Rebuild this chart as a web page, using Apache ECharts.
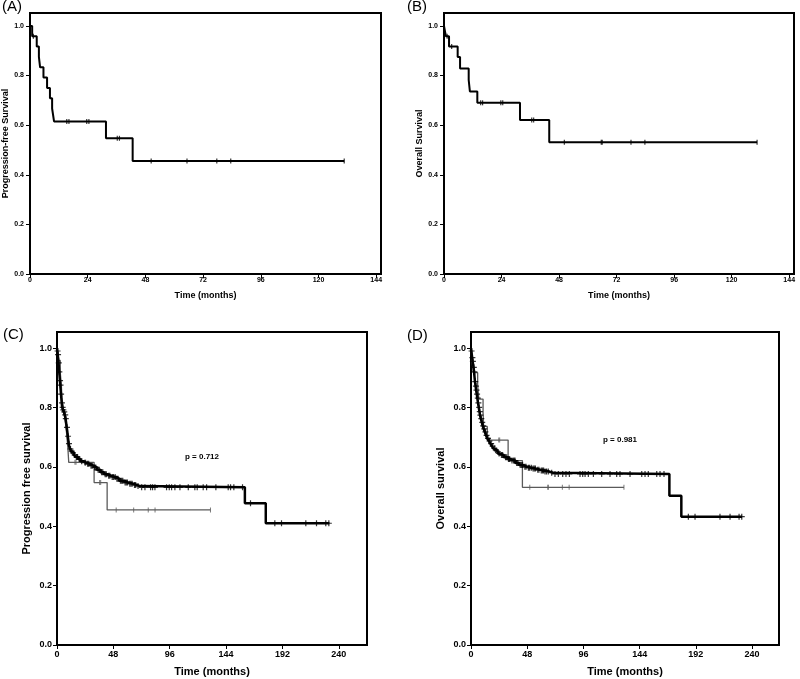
<!DOCTYPE html>
<html>
<head>
<meta charset="utf-8">
<script src="https://cdn.jsdelivr.net/npm/echarts@6/dist/echarts.min.js"></script>
<style>
html,body{margin:0;padding:0;background:#fff;}
#chart{width:800px;height:679px;}
</style>
</head>
<body>
<div id="chart"></div>
<script>
// ---------- DATA ----------
// Panel A: progression-free survival, small cohort
const pfsSmallTimes = [0, 0.9, 2.8, 3.7, 4.2, 5.6, 7.1, 8.3, 9.2, 10.0, 31.6, 42.7, 130.7];
const pfsSmallSurv  = [1.0, 0.958, 0.917, 0.875, 0.833, 0.792, 0.750, 0.708, 0.667, 0.615, 0.547, 0.455, 0.455];
const pfsSmallCensor = [1.4, 15.3, 16.2, 23.6, 24.5, 36.3, 37.2, 50.4, 65.3, 77.7, 83.5, 130.7];

// Panel B: overall survival, small cohort
const osSmallTimes = [0, 0.8, 2.1, 5.7, 6.7, 10.3, 10.8, 13.9, 31.7, 43.9, 130.6];
const osSmallSurv  = [1.0, 0.958, 0.917, 0.875, 0.828, 0.782, 0.736, 0.690, 0.621, 0.531, 0.531];
const osSmallCensor = [1.3, 3.2, 15.3, 16.1, 23.7, 24.5, 36.6, 37.4, 50.2, 65.6, 66.0, 78.0, 83.8, 130.6];

// Panel C: progression free survival, large cohort
const pfsLargeTimes = [0, 0.3, 0.6, 1.0, 1.3, 1.6, 1.9, 2.2, 2.5, 2.8, 3.1, 3.4, 3.7, 4.0, 4.4, 5.0, 5.8, 6.6, 7.3, 7.8, 8.3, 8.8, 9.2, 9.6, 10.0, 10.5, 11.0, 12.0, 13.0, 14.5, 16.0, 18.0, 20.0, 22.5, 25.0, 28.0, 31.0, 34.0, 37.0, 40.0, 43.0, 46.0, 50.0, 53.0, 57.0, 61.0, 65.0, 68.0, 70.5, 160.0, 177.8, 232.0];
const pfsLargeSurv  = [1.0, 0.990, 0.978, 0.965, 0.950, 0.935, 0.920, 0.905, 0.890, 0.875, 0.860, 0.845, 0.830, 0.815, 0.800, 0.792, 0.785, 0.775, 0.762, 0.748, 0.733, 0.718, 0.703, 0.690, 0.678, 0.667, 0.660, 0.653, 0.647, 0.640, 0.633, 0.626, 0.619, 0.614, 0.610, 0.604, 0.598, 0.590, 0.582, 0.575, 0.570, 0.566, 0.560, 0.553, 0.547, 0.543, 0.539, 0.535, 0.531, 0.477, 0.410, 0.410];
const pfsLargeCensor = [0.5, 0.9, 1.5, 2.0, 2.6, 3.0, 3.5, 4.2, 4.8, 5.4, 6.2, 7.0, 7.5, 8.5, 9.4, 10.2, 11.5, 12.5, 13.5, 15, 16.5, 17.5, 19, 21, 24, 26, 27, 29, 30, 32, 33, 35, 36, 38, 39, 41, 42, 44, 45, 47, 48, 49.5, 51, 52, 54, 55, 56, 58, 59, 60, 62, 63, 64, 66, 67, 69, 72.1, 74.9, 79.7, 81.4, 83.4, 93.3, 95.6, 97.6, 100.4, 104.7, 111.8, 117.4, 119.4, 124.5, 127.4, 135.3, 145.8, 147.8, 150.6, 158, 164.8, 185.5, 191.2, 211.9, 221, 228.9, 231.5];

// Panel D: overall survival, large cohort
const osLargeTimes = [0, 0.3, 0.7, 1.0, 1.4, 1.8, 2.2, 2.6, 3.0, 3.4, 3.9, 4.4, 4.9, 5.4, 6.0, 6.6, 7.2, 7.7, 8.4, 9.2, 10.0, 10.8, 11.8, 12.8, 13.9, 15.2, 16.5, 17.8, 19.0, 20.5, 22.0, 23.5, 25.0, 28.0, 31.0, 34.0, 38.0, 41.0, 44.7, 48.0, 52.0, 56.0, 59.0, 63.0, 67.0, 70.3, 169.4, 179.6, 231.5];
const osLargeSurv  = [1.0, 0.990, 0.978, 0.968, 0.955, 0.945, 0.935, 0.920, 0.903, 0.887, 0.872, 0.858, 0.845, 0.831, 0.815, 0.800, 0.786, 0.774, 0.762, 0.750, 0.738, 0.728, 0.718, 0.706, 0.696, 0.687, 0.678, 0.670, 0.662, 0.656, 0.650, 0.645, 0.640, 0.632, 0.626, 0.621, 0.613, 0.606, 0.600, 0.597, 0.594, 0.590, 0.588, 0.584, 0.580, 0.576, 0.503, 0.432, 0.432];
const osLargeCensor = [0.5, 1.2, 1.6, 2.4, 2.9, 3.6, 4.2, 4.7, 5.2, 5.8, 6.3, 7.0, 7.5, 8.0, 8.8, 9.6, 10.4, 11.3, 12.3, 13.3, 14.5, 15.8, 17.2, 18.5, 20, 21.2, 23, 24, 26, 27, 29.5, 30.5, 32, 33, 35, 36.5, 37.5, 39, 40, 42, 43, 44, 46, 47, 49, 50, 51.5, 53, 54, 55, 57, 58, 60, 61, 62, 63.2, 64.5, 66, 68.9, 71.7, 74.6, 78.3, 81.1, 84, 93.1, 95.4, 97.4, 100.2, 104.5, 111.6, 118.7, 124.4, 127.2, 135.8, 145.8, 148.6, 151.4, 158.6, 161.4, 164.8, 185.6, 191.3, 212.6, 221.2, 228.9, 231.2];

const yTicks = [0, 0.2, 0.4, 0.6, 0.8, 1.0];
const xTicksTop = [0, 24, 48, 72, 96, 120, 144];
const xTicksBottom = [0, 48, 96, 144, 192, 240];

const panelLetters = ['(A)', '(B)', '(C)', '(D)'];
const yTitles = ['Progression-free Survival', 'Overall Survival', 'Progression free survival', 'Overall survival'];
const xTitle = 'Time (months)';
const pValues = ['p = 0.712', 'p = 0.981'];

// ---------- HELPERS ----------
const FONT = '"Liberation Sans", Arial, sans-serif';
const PLUS = 'path://M4,0 L6,0 L6,4 L10,4 L10,6 L6,6 L6,10 L4,10 L4,6 L0,6 L0,4 L4,4 Z';
function pairs(t, s) { return t.map((v, i) => [v, s[i]]); }
function survAt(t, s, x) { let v = s[0]; for (let i = 0; i < t.length; i++) { if (t[i] <= x) v = s[i]; } return v; }
function censorPts(t, s, c) { return c.map(x => [x, survAt(t, s, x)]); }

function curve(idx, t, s, color, width, z) {
  return { type: 'line', xAxisIndex: idx, yAxisIndex: idx, step: 'end', showSymbol: false, symbol: 'none',
    data: pairs(t, s), lineStyle: { color: color, width: width }, z: z, animation: false, silent: true };
}
function censor(idx, t, s, c, color, symbol, size, z) {
  return { type: 'scatter', xAxisIndex: idx, yAxisIndex: idx, symbol: symbol, symbolSize: size,
    data: censorPts(t, s, c), itemStyle: { color: color }, z: z, animation: false, silent: true };
}

const grids = [
  { left: 30, top: 13, width: 351, height: 261 },
  { left: 444, top: 13, width: 350, height: 261 },
  { left: 57, top: 332, width: 310, height: 313 },
  { left: 471, top: 332, width: 308, height: 313 }
].map(g => Object.assign({ show: true, borderColor: '#000', borderWidth: 2, backgroundColor: 'transparent' }, g));

const small = [true, true, false, false];
const xMax = [146, 146, 264, 263];
const yMax = [1.052, 1.052, 1.054, 1.054];
const yNameGap = [20, 20, 25, 25];

const xAxes = grids.map((g, i) => ({
  type: 'value', gridIndex: i, min: 0, max: xMax[i],
  name: xTitle, nameLocation: 'middle', nameGap: small[i] ? 17 : 21,
  nameTextStyle: { fontFamily: FONT, fontWeight: 'bold', fontSize: small[i] ? 9 : 11, color: '#000' },
  axisLine: { show: true, lineStyle: { color: '#000', width: 2 } },
  axisTick: { show: true, inside: false, length: 4, customValues: small[i] ? xTicksTop : xTicksBottom, lineStyle: { color: '#000', width: 1 } },
  axisLabel: { customValues: small[i] ? xTicksTop : xTicksBottom, fontFamily: FONT, fontWeight: 'bold', fontSize: small[i] ? 7 : 9, color: '#000', margin: small[i] ? 3 : 5 },
  splitLine: { show: false }
}));
const yAxes = grids.map((g, i) => ({
  type: 'value', gridIndex: i, min: 0, max: yMax[i],
  name: yTitles[i], nameLocation: 'middle', nameGap: yNameGap[i], nameRotate: 90,
  nameTextStyle: { fontFamily: FONT, fontWeight: 'bold', fontSize: small[i] ? 9 : 11, color: '#000' },
  axisLine: { show: true, lineStyle: { color: '#000', width: 2 } },
  axisTick: { show: true, inside: false, length: 4, customValues: yTicks, lineStyle: { color: '#000', width: 1 } },
  axisLabel: { customValues: yTicks, formatter: v => v.toFixed(1), fontFamily: FONT, fontWeight: 'bold', fontSize: small[i] ? 7 : 9, color: '#000', margin: small[i] ? 6 : 5 },
  splitLine: { show: false }
}));

const series = [
  curve(0, pfsSmallTimes, pfsSmallSurv, '#000', 2, 3),
  censor(0, pfsSmallTimes, pfsSmallSurv, pfsSmallCensor, '#000', 'rect', [1.2, 5], 4),
  curve(1, osSmallTimes, osSmallSurv, '#000', 2, 3),
  censor(1, osSmallTimes, osSmallSurv, osSmallCensor, '#000', 'rect', [1.2, 5], 4),

  curve(2, pfsSmallTimes, pfsSmallSurv, '#5a5a5a', 1.3, 2),
  censor(2, pfsSmallTimes, pfsSmallSurv, pfsSmallCensor, '#5a5a5a', 'rect', [1, 5], 2),
  curve(2, pfsLargeTimes, pfsLargeSurv, '#000', 2.5, 3),
  censor(2, pfsLargeTimes, pfsLargeSurv, pfsLargeCensor, '#000', PLUS, [6, 6], 4),

  curve(3, osSmallTimes, osSmallSurv, '#5a5a5a', 1.3, 2),
  censor(3, osSmallTimes, osSmallSurv, osSmallCensor, '#5a5a5a', 'rect', [1, 5], 2),
  curve(3, osLargeTimes, osLargeSurv, '#000', 2.5, 3),
  censor(3, osLargeTimes, osLargeSurv, osLargeCensor, '#000', PLUS, [6, 6], 4)
];

const letterPos = [[2, 7], [407, 7], [3, 335], [407, 336]];
const graphic = letterPos.map((p, i) => ({
  type: 'text', left: p[0], top: p[1] - 8,
  style: { text: panelLetters[i], fontFamily: FONT, fontSize: 15, fill: '#000' }
})).concat([
  { type: 'text', x: 202, y: 457, style: { text: pValues[0], fontFamily: FONT, fontWeight: 'bold', fontSize: 8, fill: '#000', align: 'center', verticalAlign: 'middle' } },
  { type: 'text', x: 620, y: 440, style: { text: pValues[1], fontFamily: FONT, fontWeight: 'bold', fontSize: 8, fill: '#000', align: 'center', verticalAlign: 'middle' } }
]);

const chart = echarts.init(document.getElementById('chart'), null, { renderer: 'canvas' });
chart.setOption({
  backgroundColor: '#fff',
  animation: false,
  grid: grids,
  xAxis: xAxes,
  yAxis: yAxes,
  series: series,
  graphic: graphic
});
</script>
</body>
</html>
